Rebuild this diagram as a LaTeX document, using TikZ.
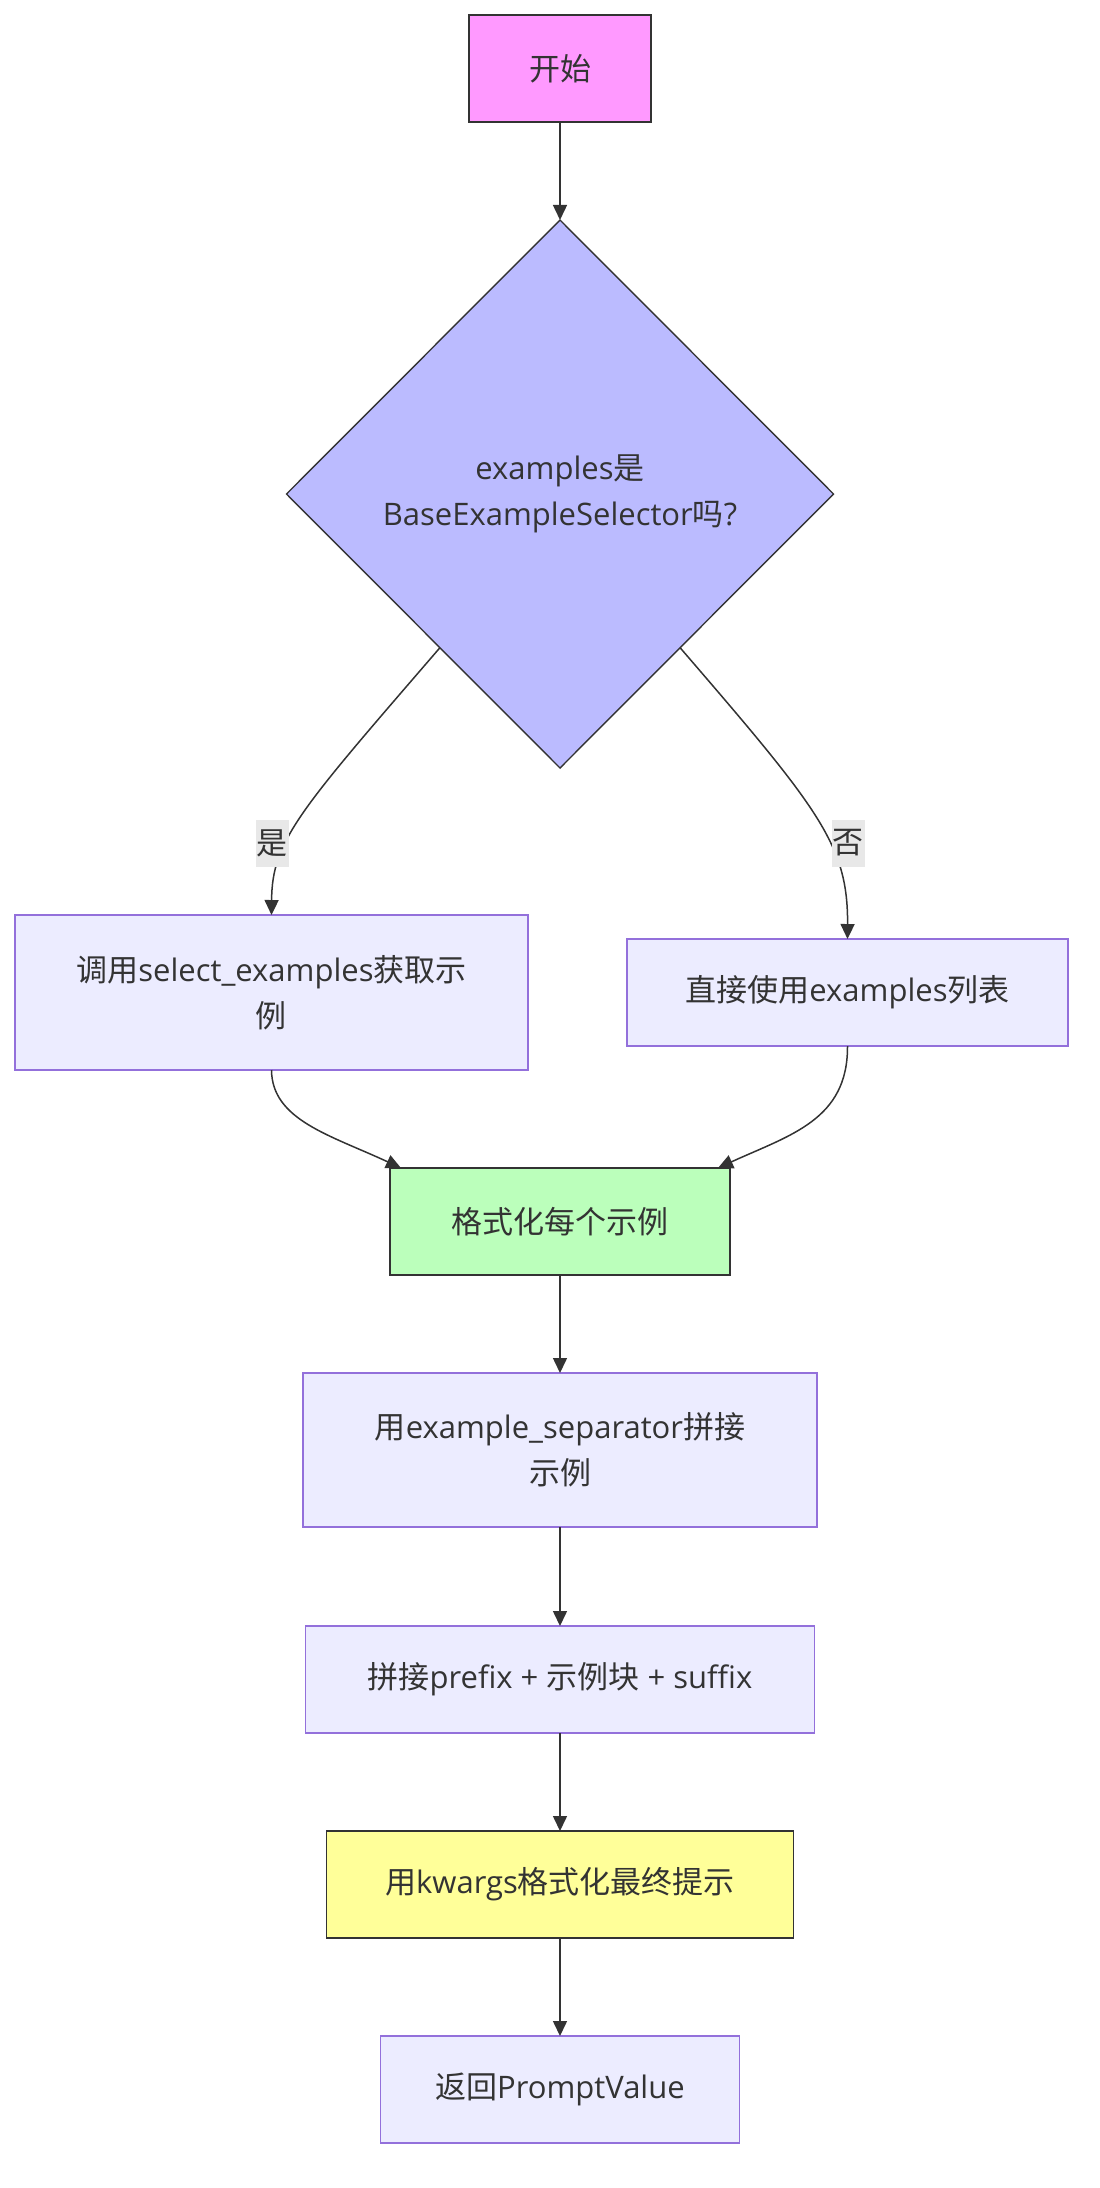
\documentclass[tikz,border=0pt]{standalone}
\usepackage{fontspec}
\setmainfont{Open Sans}
\newfontfamily\cjk{Noto Sans CJK SC}
\usetikzlibrary{shapes.geometric,arrows.meta}
\definecolor{txt}{HTML}{333333}
\definecolor{pinkfill}{HTML}{FF99FF}
\definecolor{bluefill}{HTML}{BBBBFF}
\definecolor{boxfill}{HTML}{ECECFF}
\definecolor{boxline}{HTML}{9370DB}
\definecolor{greenfill}{HTML}{BBFFBB}
\definecolor{yellowfill}{HTML}{FFFF99}
\definecolor{lblfill}{HTML}{E8E8E8}
\tikzset{
	base/.style={rectangle,draw,line width=1.4pt,outer sep=0pt,inner sep=0pt,align=center,text=txt,font=\fontsize{31pt}{46pt}\selectfont},
	proc/.style={base,fill=boxfill,draw=boxline},
	dark/.style={base,draw=txt},
	lbl/.style={fill=lblfill,text=txt,inner sep=1pt,minimum height=47pt,font=\fontsize{31pt}{46pt}\selectfont},
	flow/.style={->,draw=txt,line width=1.5pt}
}
\begin{document}
\begin{tikzpicture}[>={Stealth[inset=0pt,length=15pt,width=14pt]},x=1pt,y=-1pt]
		\useasboundingbox (0,0) rectangle (1100,2188);
		\def\cx{560} % trục giữa
		\node[dark,fill=pinkfill,minimum width=182pt,minimum height=107pt] (start) at (\cx,68.5) {{\cjk 开始}};
		\node[dark,shape=diamond,fill=bluefill,minimum width=547pt,minimum height=548pt] (dec) at (\cx,494) {examples{\cjk 是}\\BaseExampleSelector{\cjk 吗}?};
		\node[proc,minimum width=513pt,minimum height=155pt] (sel) at (271.5,992.5) {{\cjk 调用}select\_examples{\cjk 获取示}\\{\cjk 例}};
		\node[proc,minimum width=441pt,minimum height=107pt] (lst) at (847.5,992.5) {{\cjk 直接使用}examples{\cjk 列表}};
		\node[dark,fill=greenfill,minimum width=340pt,minimum height=107pt] (fmt) at (\cx,1221.5) {{\cjk 格式化每个示例}};
		\node[proc,minimum width=514pt,minimum height=154pt] (sep) at (\cx,1450) {{\cjk 用}example\_separator{\cjk 拼接}\\{\cjk 示例}};
		\node[proc,minimum width=509pt,minimum height=107pt] (cat) at (\cx,1679.5) {{\cjk 拼接}prefix + {\cjk 示例块} + suffix};
		\node[dark,fill=yellowfill,minimum width=467pt,minimum height=107pt] (kw) at (\cx,1884.5) {{\cjk 用}kwargs{\cjk 格式化最终提示}};
		\node[proc,minimum width=359pt,minimum height=107pt] (ret) at (\cx,2089.5) {{\cjk 返回}PromptValue};
		\draw[flow] (start) -- (dec);
		\draw[flow] (dec.232) .. controls (300,810) and (272,840) .. (sel.north);
		\draw[flow] (dec.308) .. controls (820,810) and (848,845) .. (lst.north);
		\draw[flow] (sel.south) .. controls (272,1120) and (330,1135) .. ([xshift=11pt]fmt.north west);
		\draw[flow] (lst.south) .. controls (848,1120) and (790,1135) .. ([xshift=-12pt]fmt.north east);
		\draw[flow] (fmt) -- (sep);
		\draw[flow] (sep) -- (cat);
		\draw[flow] (cat) -- (kw);
		\draw[flow] (kw) -- (ret);
		\node[lbl] (yes) at (272,843) {{\cjk 是}};
		\node[lbl] (no) at (848,843) {{\cjk 否}};
	\end{tikzpicture}
\end{document}
